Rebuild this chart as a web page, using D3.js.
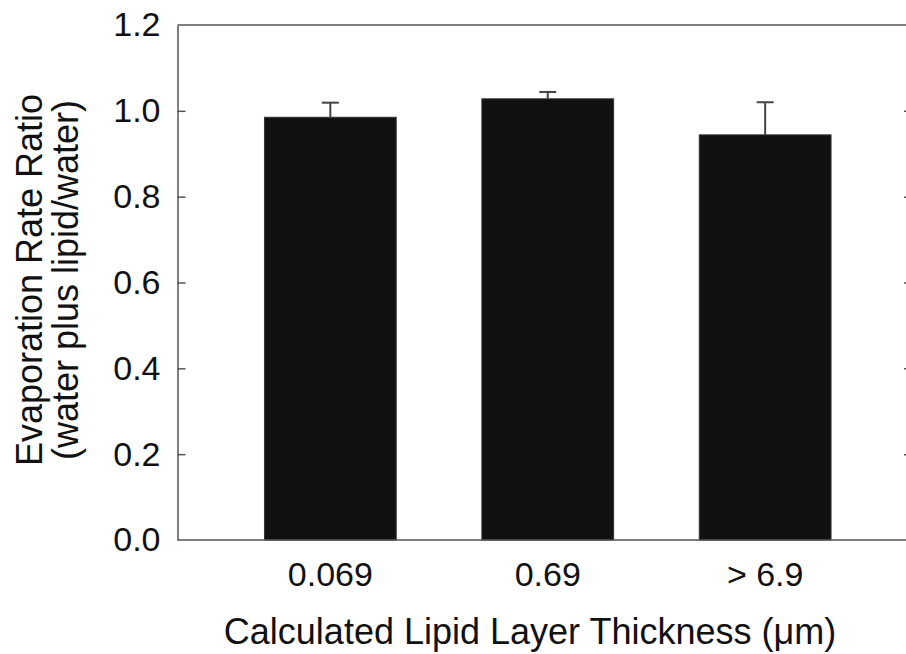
<!DOCTYPE html>
<meta charset="utf-8">
<style>
body { margin: 0; background: #fff; font-family: "Liberation Sans", Arial, sans-serif; }
.axis path, .axis line { fill: none; stroke: #555; stroke-width: 1.5; }
.axis text { font-family: "Liberation Sans", Arial, sans-serif; font-size: 34px; fill: #111; }
</style>
<body>
<script src="https://d3js.org/d3.v7.min.js"></script>
<script>

// data
var categories = ["0.069", "0.69", "> 6.9"];
var values = [0.985, 1.028, 0.944];
var errors = [0.034, 0.016, 0.076];
var yTicks = [0, 0.2, 0.4, 0.6, 0.8, 1.0, 1.2];

var W = 906, H = 654;
// right side of the frame is cropped off in the original
var pLeft = 177.5, pRight = 918, pTop = 25, pBottom = 540;

var svg = d3.select("body").append("svg")
    .attr("width", W)
    .attr("height", H);

var x = d3.scaleBand()
    .domain(categories)
    .range([pLeft, pRight])
    .paddingInner(0.394)
    .paddingOuter(0.4);

var y = d3.scaleLinear().domain([0, 1.2]).range([pBottom, pTop]);

// bars
svg.selectAll("rect.bar")
    .data(values)
  .enter().append("rect")
    .attr("class", "bar")
    .attr("x", function(d, i) { return x(categories[i]); })
    .attr("y", function(d) { return y(d); })
    .attr("width", x.bandwidth())
    .attr("height", function(d) { return y(0) - y(d); })
    .attr("fill", "#111")
    .attr("stroke", "#333")
    .attr("stroke-width", 1);

// error bars (upper only)
var eb = svg.selectAll("g.err")
    .data(values)
  .enter().append("g")
    .attr("class", "err")
    .attr("stroke", "#444")
    .attr("stroke-width", 2);

eb.append("line")
    .attr("x1", function(d, i) { return x(categories[i]) + x.bandwidth() / 2; })
    .attr("x2", function(d, i) { return x(categories[i]) + x.bandwidth() / 2; })
    .attr("y1", function(d) { return y(d); })
    .attr("y2", function(d, i) { return y(d + errors[i]); });

eb.append("line")
    .attr("x1", function(d, i) { return x(categories[i]) + x.bandwidth() / 2 - 8.5; })
    .attr("x2", function(d, i) { return x(categories[i]) + x.bandwidth() / 2 + 8.5; })
    .attr("y1", function(d, i) { return y(d + errors[i]); })
    .attr("y2", function(d, i) { return y(d + errors[i]); });

// left axis, ticks pointing inward
var yAxis = d3.axisLeft(y).tickValues(yTicks)
    .tickFormat(d3.format(".1f"))
    .tickSizeInner(-8).tickSizeOuter(0).tickPadding(17);

svg.append("g")
    .attr("class", "y axis")
    .attr("transform", "translate(" + pLeft + ",0)")
    .call(yAxis)
    .call(function(g) { g.selectAll("line").filter(function(d) { return d === 0 || d === 1.2; }).remove(); });

// right axis, only the tick stubs show in the crop
svg.append("g")
    .attr("class", "y axis")
    .attr("transform", "translate(912,0)")
    .call(d3.axisRight(y).tickValues(yTicks.slice(1, 6)).tickSizeInner(-8).tickSizeOuter(0).tickFormat(""));

// bottom axis, no tick marks
svg.append("g")
    .attr("class", "x axis")
    .attr("transform", "translate(0," + pBottom + ")")
    .call(d3.axisBottom(x).tickSize(0).tickPadding(22))
    .call(function(g) { g.select(".domain").attr("d", "M" + pLeft + ",0H" + pRight); });

// top frame line
svg.append("line")
    .attr("x1", pLeft).attr("x2", pRight)
    .attr("y1", pTop).attr("y2", pTop)
    .attr("stroke", "#555").attr("stroke-width", 1.5);

// axis titles
svg.append("text")
    .attr("x", 530)
    .attr("y", 644)
    .attr("text-anchor", "middle")
    .style("font-size", "36px")
    .attr("fill", "#111")
    .text("Calculated Lipid Layer Thickness (\u03bcm)");

var yt = svg.append("text")
    .attr("transform", "translate(42,280) rotate(-90)")
    .attr("text-anchor", "middle")
    .style("font-size", "36px")
    .attr("fill", "#111");
yt.append("tspan").attr("x", 0).attr("y", 0).text("Evaporation Rate Ratio");
yt.append("tspan").attr("x", 0).attr("y", 36).text("(water plus lipid/water)");

</script>
</body>
